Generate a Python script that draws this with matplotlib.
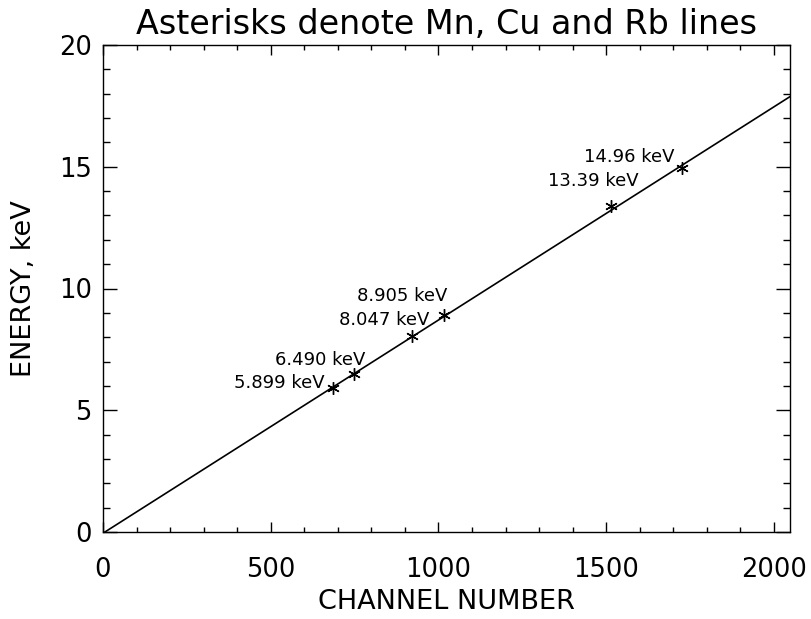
import matplotlib
matplotlib.use("Agg")
import matplotlib.pyplot as plt
from matplotlib.ticker import MultipleLocator

# Data
line_channels = [0, 2048]
line_energy = [-0.05, 17.88]
peak_channels = [685, 748, 922, 1017, 1513, 1727]
peak_energy = [5.899, 6.490, 8.047, 8.905, 13.39, 14.96]
peak_labels = ["5.899 keV", "6.490 keV", "8.047 keV", "8.905 keV", "13.39 keV", "14.96 keV"]
# label offsets (pixels) for right edge of text relative to each point
label_offsets = [(-8, 5), (11, 14), (17, 16), (3, 19), (28, 25), (-8, 11)]

plt.rcParams['font.family'] = ['DejaVu Sans']

fig = plt.figure(figsize=(8.11, 6.19), dpi=100)
ax = fig.add_axes([103/811, 87/619, 687/811, 487/619])

ax.plot(line_channels, line_energy, color='black', lw=1.2)
ax.plot(peak_channels, peak_energy, linestyle='none', marker=(6, 2, 0),
        markersize=9, markeredgecolor='black', markeredgewidth=1.0, color='black')
for ch, e, lab, off in zip(peak_channels, peak_energy, peak_labels, label_offsets):
    ax.annotate(lab, (ch, e), xytext=off, textcoords='offset pixels',
                ha='right', va='center', fontsize=13)

ax.set_xlim(0, 2048)
ax.set_ylim(0, 20)
ax.xaxis.set_major_locator(MultipleLocator(500))
ax.xaxis.set_minor_locator(MultipleLocator(100))
ax.yaxis.set_major_locator(MultipleLocator(5))
ax.yaxis.set_minor_locator(MultipleLocator(1))

ax.tick_params(axis='x', which='major', direction='in', length=7.5, width=1, top=True, bottom=True, labelsize=18.5, pad=18)
ax.tick_params(axis='x', which='minor', direction='in', length=3.7, width=1, top=True, bottom=True)
ax.tick_params(axis='y', which='major', direction='in', length=10, width=1, left=True, right=True, labelsize=18.5, pad=8)
ax.tick_params(axis='y', which='minor', direction='in', length=5, width=1, left=True, right=True)
for s in ax.spines.values():
    s.set_linewidth(1)

ax.set_xlabel("CHANNEL NUMBER", fontsize=19.5, labelpad=4)
ax.set_ylabel("ENERGY, keV", fontsize=19.5, labelpad=16)
ax.set_title("Asterisks denote Mn, Cu and Rb lines", fontsize=24, pad=8)

fig.savefig("out.png", dpi=100)
